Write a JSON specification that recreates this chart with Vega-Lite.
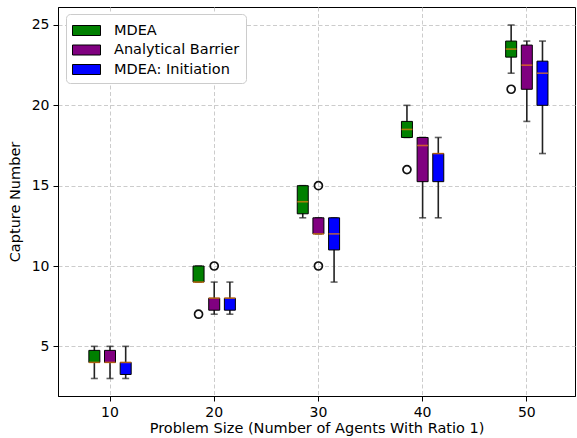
{
  "$schema": "https://vega.github.io/schema/vega-lite/v6.json",
  "autosize": {"type": "none"},
  "padding": {"left": 58, "top": 7, "right": 2, "bottom": 42},
  "width": 517,
  "height": 389,
  "background": "white",
  "datasets": {
    "boxes": [
      {"size": 10, "series": "MDEA", "lo": 3, "q1": 4, "med": 4, "q3": 4.75, "hi": 5},
      {"size": 10, "series": "Analytical Barrier", "lo": 3, "q1": 4, "med": 4, "q3": 4.75, "hi": 5},
      {"size": 10, "series": "MDEA: Initiation", "lo": 3, "q1": 3.25, "med": 4, "q3": 4, "hi": 5},
      {"size": 20, "series": "MDEA", "lo": 9, "q1": 9, "med": 9, "q3": 10, "hi": 10},
      {"size": 20, "series": "Analytical Barrier", "lo": 7, "q1": 7.25, "med": 8, "q3": 8, "hi": 9},
      {"size": 20, "series": "MDEA: Initiation", "lo": 7, "q1": 7.25, "med": 8, "q3": 8, "hi": 9},
      {"size": 30, "series": "MDEA", "lo": 13, "q1": 13.25, "med": 14, "q3": 15, "hi": 15},
      {"size": 30, "series": "Analytical Barrier", "lo": 12, "q1": 12, "med": 12, "q3": 13, "hi": 13},
      {"size": 30, "series": "MDEA: Initiation", "lo": 9, "q1": 11, "med": 12, "q3": 13, "hi": 13},
      {"size": 40, "series": "MDEA", "lo": 18, "q1": 18, "med": 18.5, "q3": 19, "hi": 20},
      {"size": 40, "series": "Analytical Barrier", "lo": 13, "q1": 15.25, "med": 17.5, "q3": 18, "hi": 18},
      {"size": 40, "series": "MDEA: Initiation", "lo": 13, "q1": 15.25, "med": 17, "q3": 17, "hi": 18},
      {"size": 50, "series": "MDEA", "lo": 22, "q1": 23, "med": 23.5, "q3": 24, "hi": 25},
      {"size": 50, "series": "Analytical Barrier", "lo": 19, "q1": 21, "med": 22.5, "q3": 23.75, "hi": 24},
      {"size": 50, "series": "MDEA: Initiation", "lo": 17, "q1": 20, "med": 22, "q3": 22.75, "hi": 24}
    ],
    "outliers": [
      {"size": 20, "series": "MDEA", "value": 7},
      {"size": 20, "series": "Analytical Barrier", "value": 10},
      {"size": 30, "series": "Analytical Barrier", "value": 15},
      {"size": 30, "series": "Analytical Barrier", "value": 10},
      {"size": 40, "series": "MDEA", "value": 16},
      {"size": 50, "series": "MDEA", "value": 21}
    ]
  },
  "data": {"name": "boxes"},
  "encoding": {
    "x": {
      "field": "size",
      "type": "ordinal",
      "scale": {"paddingInner": 0.549, "paddingOuter": 0.2553, "align": 0.536},
      "axis": {"title": "Problem Size (Number of Agents With Ratio 1)", "bandPosition": 0.5, "grid": true, "labelAngle": 0}
    },
    "xOffset": {
      "field": "series",
      "type": "nominal",
      "scale": {"domain": ["MDEA", "Analytical Barrier", "MDEA: Initiation"], "paddingInner": 0, "paddingOuter": 0}
    }
  },
  "layer": [
    {
      "mark": {"type": "rule", "color": "#222222", "strokeWidth": 1.6},
      "encoding": {
        "y": {"field": "lo", "type": "quantitative", "title": "Capture Number", "scale": {"domain": [1.91, 26.12], "nice": false, "zero": false}, "axis": {"values": [5, 10, 15, 20, 25]}},
        "y2": {"field": "hi"}
      }
    },
    {
      "mark": {"type": "tick", "color": "#222222", "thickness": 1.6, "size": 7, "orient": "horizontal"},
      "encoding": {"y": {"field": "lo", "type": "quantitative", "title": "Capture Number"}}
    },
    {
      "mark": {"type": "tick", "color": "#222222", "thickness": 1.6, "size": 7, "orient": "horizontal"},
      "encoding": {"y": {"field": "hi", "type": "quantitative", "title": "Capture Number"}}
    },
    {
      "mark": {"type": "bar", "width": 11, "stroke": "black", "strokeWidth": 1},
      "encoding": {
        "y": {"field": "q1", "type": "quantitative", "title": "Capture Number"},
        "y2": {"field": "q3"},
        "color": {
          "field": "series",
          "type": "nominal",
          "scale": {"domain": ["MDEA", "Analytical Barrier", "MDEA: Initiation"], "range": ["#008000", "#800080", "#0000ff"]},
          "legend": {
            "title": null,
            "orient": "none",
            "legendX": 8,
            "legendY": 7,
            "fillColor": "white",
            "strokeColor": "#cccccc",
            "cornerRadius": 4,
            "padding": 6,
            "labelFontSize": 14.5,
            "labelFont": "DejaVu Sans",
            "labelColor": "black",
            "symbolType": "M-1,-0.5H1.8V0.5H-1Z",
            "symbolSize": 400,
            "symbolStrokeColor": "black",
            "symbolStrokeWidth": 1,
            "symbolOpacity": 1,
            "labelOffset": 21,
            "rowPadding": 1.5
          }
        }
      }
    },
    {
      "mark": {"type": "tick", "color": "#f07f10", "thickness": 1.6, "size": 11, "orient": "horizontal"},
      "encoding": {"y": {"field": "med", "type": "quantitative", "title": "Capture Number"}}
    },
    {
      "data": {"name": "outliers"},
      "mark": {"type": "point", "shape": "circle", "filled": false, "color": "#111111", "strokeWidth": 1.7, "size": 64, "opacity": 1},
      "encoding": {"y": {"field": "value", "type": "quantitative", "title": "Capture Number"}}
    }
  ],
  "config": {
    "font": "DejaVu Sans",
    "view": {"stroke": "black", "strokeWidth": 1},
    "axis": {
      "domainColor": "black",
      "tickColor": "black",
      "tickSize": 5,
      "labelColor": "black",
      "titleColor": "black",
      "labelFontSize": 14,
      "titleFontSize": 14.5,
      "titleFontWeight": "normal",
      "labelFont": "DejaVu Sans",
      "titleFont": "DejaVu Sans",
      "gridColor": "#cccccc",
      "gridDash": [4, 2.5],
      "gridWidth": 1
    },
    "axisX": {"labelPadding": 4, "titlePadding": 2},
    "axisY": {"labelPadding": 4, "titlePadding": 9}
  }
}
